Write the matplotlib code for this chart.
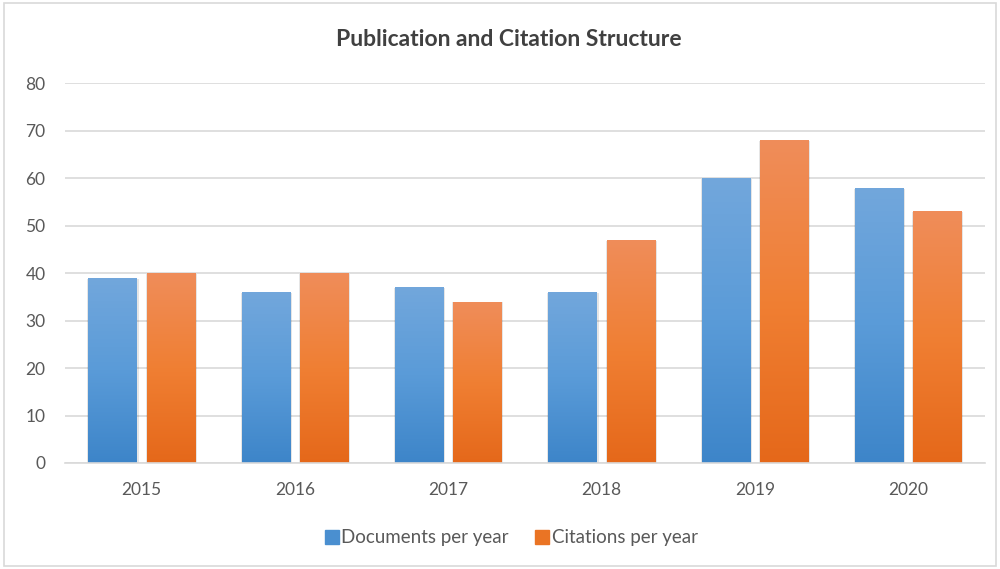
import matplotlib
matplotlib.use("Agg")
import matplotlib.pyplot as plt
import numpy as np
from matplotlib.colors import LinearSegmentedColormap
from matplotlib.patches import Rectangle
from matplotlib.lines import Line2D

years = ["2015", "2016", "2017", "2018", "2019", "2020"]
documents = [39, 36, 37, 36, 60, 58]
citations = [40, 40, 34, 47, 68, 53]
series_names = ["Documents per year", "Citations per year"]

plt.rcParams['font.family'] = ['Lato', 'DejaVu Sans']

fig = plt.figure(figsize=(10, 5.69), dpi=100)
ax = fig.add_axes([0.065, 0.1863, 0.92, 0.6677])

x = np.arange(len(years))
w = 0.315
off = 0.19

blue_cmap = LinearSegmentedColormap.from_list("b", ["#3d85c9", "#5a9bd8", "#72a7dc"])
orange_cmap = LinearSegmentedColormap.from_list("o", ["#e5681a", "#f07f33", "#ef8d5a"])

ax.set_xlim(-0.5, len(years) - 0.5)
ax.set_ylim(0, 80)

grad = np.linspace(0, 1, 256).reshape(-1, 1)

def grad_bars(xs, vals, cmap, color):
    bars = ax.bar(xs, vals, width=w, color=color, zorder=2)
    for b in bars:
        bx, by = b.get_x(), b.get_y()
        bw, bh = b.get_width(), b.get_height()
        sh = Rectangle((bx - 0.006, by), bw + 0.018, bh - 0.2, facecolor="#000000", alpha=0.10,
                       zorder=1.5, linewidth=0)
        ax.add_patch(sh)
        im = ax.imshow(grad, cmap=cmap, aspect="auto", origin="lower",
                       extent=[bx, bx + bw, 0, bh], zorder=2.5, vmin=0, vmax=1)
        im.set_clip_path(b)
    return bars

grad_bars(x - off, documents, blue_cmap, "#5b9bd5")
grad_bars(x + off, citations, orange_cmap, "#ed7d31")

ax.set_xlim(-0.5, len(years) - 0.5)
ax.set_ylim(0, 80)
ax.set_yticks(range(0, 81, 10))
ax.set_xticks(x)
ax.set_xticklabels(years)
ax.yaxis.grid(True, color="#d9d9d9", linewidth=1.2, zorder=0)
ax.set_axisbelow(True)
for s in ["top", "right", "left"]:
    ax.spines[s].set_visible(False)
ax.spines["bottom"].set_color("#d9d9d9")
ax.spines["bottom"].set_linewidth(1.2)
ax.tick_params(axis="both", length=0, labelsize=12.5, colors="#595959")
ax.tick_params(axis="x", pad=14)
ax.tick_params(axis="y", pad=14)

fig.text(0.509, 0.93, "Publication and Citation Structure", ha="center", va="center",
         fontsize=16.5, fontweight="bold", color="#404040")

handles = [Line2D([], [], marker="s", linestyle="", markersize=9.5, color="#4a8fd0"),
           Line2D([], [], marker="s", linestyle="", markersize=9.5, color="#ea7424")]
leg = fig.legend(handles, series_names, loc="center", bbox_to_anchor=(0.511, 0.055),
                 ncol=2, frameon=False, fontsize=13.5, handletextpad=0.1, columnspacing=1.4,
                 handlelength=0.8)
for t in leg.get_texts():
    t.set_color("#595959")

border = Rectangle((0.004, 0.005), 0.992, 0.99, transform=fig.transFigure, fill=False,
                   edgecolor="#d9d9d9", linewidth=1.2)
fig.patches.append(border)

fig.savefig("out.png", dpi=100)
